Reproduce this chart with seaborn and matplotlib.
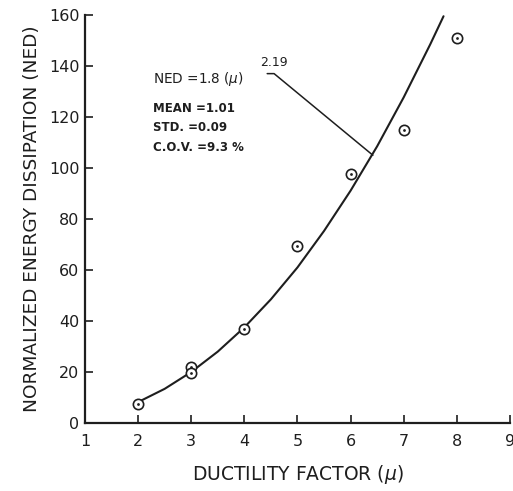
import numpy as np
import pandas as pd
import matplotlib
matplotlib.use("Agg")
import matplotlib.pyplot as plt
import seaborn as sns

sns.set_style("ticks")
plt.rcParams['font.family'] = ['DejaVu Sans']

# Test data (open circles)
mu_pts = [2, 3, 3, 4, 5, 6, 7, 8]
ned_pts = [7.5, 21.8, 19.8, 36.8, 69.5, 97.5, 115, 151]

# Fitted curve NED = 1.8 (mu)^2.19
mu_fit = [2, 2.5, 3, 3.5, 4, 4.5, 5, 5.5, 6, 6.5, 7, 7.5, 7.75]
ned_fit = [8.2, 13.4, 20.0, 28.0, 37.5, 48.5, 61.0, 75.3, 91.1, 108.5, 127.7, 148.5, 159.5]

x_ticks = [1, 2, 3, 4, 5, 6, 7, 8, 9]
y_ticks = [0, 20, 40, 60, 80, 100, 120, 140, 160]

ink = "#1e1e1e"

pts = pd.DataFrame({"mu": mu_pts, "NED": ned_pts})
fit = pd.DataFrame({"mu": mu_fit, "NED": ned_fit})

fig = plt.figure(figsize=(5.13, 4.91), dpi=100)
ax = fig.add_axes([0.1657, 0.1385, 0.8283, 0.831])

sns.lineplot(data=fit, x="mu", y="NED", ax=ax, color=ink, linewidth=1.5)
sns.scatterplot(data=pts, x="mu", y="NED", ax=ax, s=55, marker="o",
                facecolor="white", edgecolor=ink, linewidth=1.2, zorder=3)
sns.scatterplot(data=pts, x="mu", y="NED", ax=ax, s=4, marker="o",
                color=ink, linewidth=0, zorder=4)

ax.set_xlim(1, 9)
ax.set_ylim(0, 160)
ax.set_xticks(x_ticks)
ax.set_yticks(y_ticks)
ax.set_xticklabels([str(v) for v in x_ticks])
ax.set_yticklabels([str(v) for v in y_ticks])
ax.tick_params(direction="in", length=6, width=1.2, colors=ink,
               labelsize=11.5, pad=8)
ax.tick_params(axis="y", pad=4)
for side in ["top", "right"]:
    ax.spines[side].set_visible(False)
for side in ["left", "bottom"]:
    ax.spines[side].set_linewidth(1.6)
    ax.spines[side].set_color(ink)

ax.set_xlabel("DUCTILITY FACTOR ($\\mu$)", fontsize=13.5, color=ink, labelpad=10)
ax.set_ylabel("NORMALIZED ENERGY DISSIPATION (NED)", fontsize=13.3,
              color=ink, labelpad=6)

# Equation and statistics
ax.text(2.28, 135, "NED =1.8 ($\\mu$)", fontsize=9.8, color=ink, va="center")
ax.text(4.3, 141.5, "2.19", fontsize=9, color=ink, va="center")
ax.plot([4.43, 4.56, 6.42], [137, 137, 105], color=ink, linewidth=1.1)
ax.text(2.28, 123.5, "MEAN =1.01", fontsize=8.5, color=ink, va="center",
        fontweight="bold")
ax.text(2.28, 115.7, "STD. =0.09", fontsize=8.5, color=ink, va="center",
        fontweight="bold")
ax.text(2.28, 108.2, "C.O.V. =9.3 %", fontsize=8.5, color=ink, va="center",
        fontweight="bold")

fig.savefig("out.png", dpi=100)
